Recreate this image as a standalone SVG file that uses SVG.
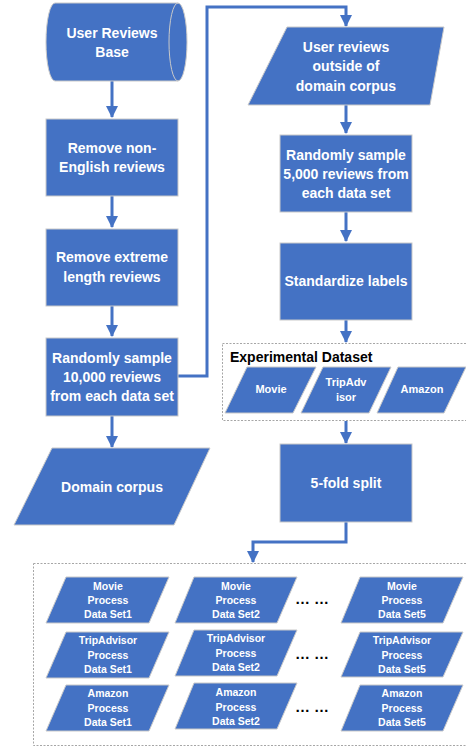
<svg xmlns="http://www.w3.org/2000/svg" width="466" height="747" viewBox="0 0 466 747">
<defs>
<marker id="arr" markerUnits="userSpaceOnUse" markerWidth="12" markerHeight="12" viewBox="0 0 12 12" refX="11" refY="6" orient="auto">
<path d="M0,0 L12,6 L0,12 Z" fill="#4472C4"/>
</marker>
</defs>
<style>
.n{fill:#4472C4;stroke:#C9C9C9;stroke-width:1}
.t{font-family:"Liberation Sans",Arial,sans-serif;font-weight:bold;fill:#FFFFFF;text-anchor:middle;font-size:14px}
.s{font-size:10.5px}
.m{font-size:11px}
.c{fill:none;stroke:#4472C4;stroke-width:3}
.d{fill:none;stroke:#A6A6A6;stroke-width:1;stroke-dasharray:2,1.5}
.k{font-family:"Liberation Sans",Arial,sans-serif;font-weight:bold;fill:#000000}
</style>
<rect width="466" height="747" fill="#FFFFFF"/>
<g id="connectors">
<path class="c" d="M112,81 V117" marker-end="url(#arr)"/>
<path class="c" d="M112,196 V227" marker-end="url(#arr)"/>
<path class="c" d="M112,306 V336" marker-end="url(#arr)"/>
<path class="c" d="M112,416 V447" marker-end="url(#arr)"/>
<path class="c" d="M178,376 H207 V7 H346 V26" marker-end="url(#arr)"/>
<path class="c" d="M346,105 V133" marker-end="url(#arr)"/>
<path class="c" d="M346,212 V241" marker-end="url(#arr)"/>
<path class="c" d="M346,320 V342" marker-end="url(#arr)"/>
<path class="c" d="M346,421 V443" marker-end="url(#arr)"/>
<path class="c" d="M346,522 V542 H253 V562" marker-end="url(#arr)"/>
</g>
<g id="user-reviews-base">
<path class="n" d="M55,3 A9,39 0 0 0 55,81 L178,81 A9,39 0 0 0 178,3 Z"/>
<path d="M178,3 A9,39 0 0 0 178,81" fill="none" stroke="#C9C9C9" stroke-width="1"/>
<text class="t" x="112" y="38">User Reviews</text>
<text class="t" x="112" y="57">Base</text>
</g>
<g id="remove-non-english">
<rect class="n" x="46" y="119" width="132" height="77"/>
<text class="t" x="112" y="153">Remove non-</text>
<text class="t" x="112" y="172">English reviews</text>
</g>
<g id="remove-extreme">
<rect class="n" x="46" y="229" width="132" height="77"/>
<text class="t" x="112" y="262">Remove extreme</text>
<text class="t" x="112" y="282">length reviews</text>
</g>
<g id="sample-10000">
<rect class="n" x="46" y="338" width="132" height="78"/>
<text class="t" x="112" y="363">Randomly sample</text>
<text class="t" x="112" y="382">10,000 reviews</text>
<text class="t" x="112" y="401">from each data set</text>
</g>
<g id="domain-corpus">
<path class="n" d="M52,448 L210,448 L174,525 L14,525 Z"/>
<text class="t" x="112" y="492">Domain corpus</text>
</g>
<g id="outside-corpus">
<path class="n" d="M287,27 L444,27 L430,105 L248,105 Z"/>
<text class="t" x="346" y="52">User reviews</text>
<text class="t" x="346" y="71">outside of</text>
<text class="t" x="346" y="91">domain corpus</text>
</g>
<g id="sample-5000">
<rect class="n" x="280" y="135" width="132" height="77"/>
<text class="t" x="346" y="160">Randomly sample</text>
<text class="t" x="346" y="179">5,000 reviews from</text>
<text class="t" x="346" y="198">each data set</text>
</g>
<g id="standardize">
<rect class="n" x="280" y="243" width="132" height="77"/>
<text class="t" x="346" y="286">Standardize labels</text>
</g>
<g id="experimental-dataset">
<rect class="d" x="222.5" y="343.5" width="250" height="77"/>
<text class="k" x="230" y="362" font-size="14">Experimental Dataset</text>
<path class="n" d="M247,367 L316,367 L293,413 L225,413 Z"/>
<text class="t m" x="271" y="393">Movie</text>
<path class="n" d="M323,367 L391,367 L369,413 L301,413 Z"/>
<text class="t m" x="346" y="386">TripAdv</text>
<text class="t m" x="346" y="401">isor</text>
<path class="n" d="M398,367 L466,367 L444,413 L377,413 Z"/>
<text class="t m" x="422" y="393">Amazon</text>
</g>
<g id="five-fold">
<rect class="n" x="280" y="444" width="132" height="78"/>
<text class="t" x="346" y="488">5-fold split</text>
</g>
<g id="process-sets">
<rect class="d" x="33.5" y="563.5" width="440" height="182"/>
<path class="n" d="M66,577 L169,577 L149,623 L46,623 Z"/>
<text class="t s" x="108" y="590">Movie</text>
<text class="t s" x="108" y="604">Process</text>
<text class="t s" x="108" y="618">Data Set1</text>
<path class="n" d="M194,577 L297,577 L277,623 L175,623 Z"/>
<text class="t s" x="236" y="590">Movie</text>
<text class="t s" x="236" y="604">Process</text>
<text class="t s" x="236" y="618">Data Set2</text>
<path class="n" d="M360,577 L463,577 L443,623 L341,623 Z"/>
<text class="t s" x="402" y="590">Movie</text>
<text class="t s" x="402" y="604">Process</text>
<text class="t s" x="402" y="618">Data Set5</text>
<path class="n" d="M66,632 L169,632 L149,678 L46,678 Z"/>
<text class="t s" x="108" y="644">TripAdvisor</text>
<text class="t s" x="108" y="659">Process</text>
<text class="t s" x="108" y="673">Data Set1</text>
<path class="n" d="M194,630 L297,630 L277,676 L175,676 Z"/>
<text class="t s" x="236" y="642">TripAdvisor</text>
<text class="t s" x="236" y="657">Process</text>
<text class="t s" x="236" y="671">Data Set2</text>
<path class="n" d="M360,632 L463,632 L443,677 L341,677 Z"/>
<text class="t s" x="402" y="644">TripAdvisor</text>
<text class="t s" x="402" y="659">Process</text>
<text class="t s" x="402" y="673">Data Set5</text>
<path class="n" d="M66,685 L169,685 L149,731 L46,731 Z"/>
<text class="t s" x="108" y="697">Amazon</text>
<text class="t s" x="108" y="712">Process</text>
<text class="t s" x="108" y="726">Data Set1</text>
<path class="n" d="M194,683 L297,683 L277,729 L175,729 Z"/>
<text class="t s" x="236" y="696">Amazon</text>
<text class="t s" x="236" y="711">Process</text>
<text class="t s" x="236" y="725">Data Set2</text>
<path class="n" d="M360,685 L463,685 L443,731 L341,731 Z"/>
<text class="t s" x="402" y="697">Amazon</text>
<text class="t s" x="402" y="712">Process</text>
<text class="t s" x="402" y="726">Data Set5</text>
<text class="k" x="312" y="604" font-size="15" text-anchor="middle">… …</text>
<text class="k" x="312" y="659" font-size="15" text-anchor="middle">… …</text>
<text class="k" x="312" y="712" font-size="15" text-anchor="middle">… …</text>
</g>
</svg>
